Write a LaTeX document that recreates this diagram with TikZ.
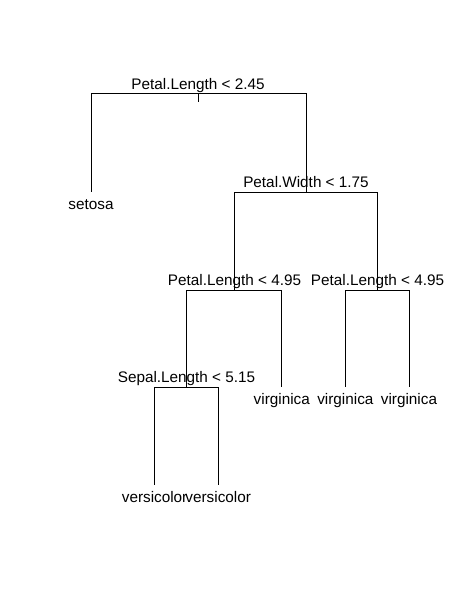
\documentclass[tikz,border=0pt]{standalone}
\usepackage{fontspec}
\setmainfont{Liberation Sans}
\usepackage{tikz}

\begin{document}
\begin{tikzpicture}[x=1pt, y=-1pt, line width=1pt,
    every node/.style={font=\fontsize{15.3}{18}\selectfont, inner sep=0pt},
    splitlab/.style={anchor=base, yshift=4.5pt},
    leaflab/.style={anchor=base, yshift=-17pt}]
  \useasboundingbox (0,0) rectangle (463,599);
  % split points and leaf ends, numbered as in the tree
  \coordinate (n1) at (198,94); \coordinate (n1s) at (198,102);
  \coordinate (n2) at (91,192); \coordinate (n3) at (306,192);
  \coordinate (n6) at (234.5,290); \coordinate (n7) at (377.5,290);
  \coordinate (n12) at (186.5,387); \coordinate (n13) at (281.8,387);
  \coordinate (n14) at (345.4,387); \coordinate (n15) at (409,387);
  \coordinate (n24) at (154.6,485); \coordinate (n25) at (218.2,485);

  % branches
  \draw (n1) -- (n1s);
  \draw (n1) -| (n2); \draw (n1) -| (n3);
  \draw (n3) -| (n6); \draw (n3) -| (n7);
  \draw (n6) -| (n12); \draw (n6) -| (n13);
  \draw (n7) -| (n14); \draw (n7) -| (n15);
  \draw (n12) -| (n24); \draw (n12) -| (n25);

  % split labels
  \node[splitlab] (l1) at (n1) {Petal.Length < 2.45};
  \node[splitlab] (l3) at (n3) {Petal.Width < 1.75};
  \node[splitlab] (l6) at (n6) {Petal.Length < 4.95};
  \node[splitlab] (l7) at (n7) {Petal.Length < 4.95};
  \node[splitlab] (l12) at (n12) {Sepal.Length < 5.15};

  % leaf labels
  \node[leaflab] (l2) at (n2) {setosa};
  \node[leaflab] (l13) at (n13) {virginica};
  \node[leaflab] (l14) at (n14) {virginica};
  \node[leaflab] (l15) at (n15) {virginica};
  \node[leaflab] (l24) at (n24) {versicolor};
  \node[leaflab] (l25) at (n25) {versicolor};
\end{tikzpicture}
\end{document}
